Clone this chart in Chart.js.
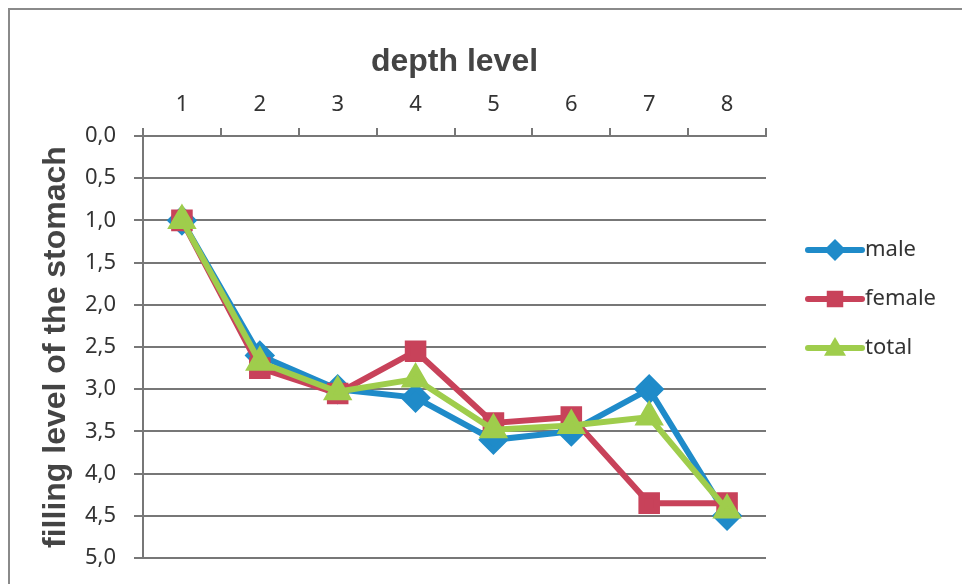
<!DOCTYPE html>
<html>
<head>
<meta charset="utf-8">
<script src="https://cdn.jsdelivr.net/npm/chart.js@4"></script>
<style>
  html, body { margin: 0; padding: 0; background: #fff; }
  #wrap { width: 962px; height: 584px; position: relative; }
</style>
</head>
<body>
<div id="wrap"><canvas id="stomachChart" width="962" height="584"></canvas></div>
<script>
const depthLevels = ["1", "2", "3", "4", "5", "6", "7", "8"];
const maleValues = [1.0, 2.6, 3.0, 3.1, 3.6, 3.5, 3.0, 4.5];
const femaleValues = [1.0, 2.75, 3.05, 2.55, 3.4, 3.33, 4.35, 4.35];
const totalValues = [1.0, 2.68, 3.03, 2.88, 3.48, 3.43, 3.33, 4.43];
const seriesNames = ["male", "female", "total"];

const tickFont = { family: "'Noto Sans', sans-serif", size: 22 };
const titleFont = { family: "'Liberation Sans', Arial, sans-serif", size: 32, weight: "bold" };

// outer frame like the pasted image border
const framePlugin = {
  id: "frame",
  beforeDraw(chart) {
    const c = chart.ctx;
    c.save();
    c.fillStyle = "#fff";
    c.fillRect(0, 0, chart.width, chart.height);
    c.strokeStyle = "#8a8a8a";
    c.lineWidth = 2;
    c.beginPath();
    c.moveTo(9, chart.height);
    c.lineTo(9, 9);
    c.lineTo(chart.width, 9);
    c.stroke();
    c.restore();
  },
};

// legend with line + marker, to the right of the plot
const sideLegend = {
  id: "sideLegend",
  afterDraw(chart) {
    const c = chart.ctx;
    const area = chart.chartArea;
    const x0 = area.right + 42;
    let y = area.top + 114;
    chart.data.datasets.forEach((ds) => {
      c.save();
      c.strokeStyle = ds.borderColor;
      c.lineWidth = 6;
      c.lineCap = "round";
      c.beginPath();
      c.moveTo(x0, y);
      c.lineTo(x0 + 54, y);
      c.stroke();
      c.fillStyle = ds.pointBackgroundColor;
      const r = ds.pointRadius;
      const cx = x0 + 27;
      c.beginPath();
      if (ds.pointStyle === "rectRot") {
        c.moveTo(cx, y - r);
        c.lineTo(cx + r, y);
        c.lineTo(cx, y + r);
        c.lineTo(cx - r, y);
      } else if (ds.pointStyle === "rect") {
        c.rect(cx - r * 0.75, y - r * 0.75, r * 1.5, r * 1.5);
      } else {
        c.moveTo(cx, y - r);
        c.lineTo(cx + r, y + r * 0.7);
        c.lineTo(cx - r, y + r * 0.7);
      }
      c.closePath();
      c.fill();
      c.fillStyle = "#333";
      c.font = "22px 'Noto Sans', sans-serif";
      c.textBaseline = "middle";
      c.fillText(ds.label, x0 + 57, y);
      c.restore();
      y += 49;
    });
  },
};

const makeSet = (label, data, color, style, radius, order) => ({
  label: label,
  data: data,
  order: order,
  borderColor: color,
  backgroundColor: color,
  pointBackgroundColor: color,
  pointBorderColor: color,
  pointStyle: style,
  pointRadius: radius,
  borderWidth: 6,
  tension: 0,
});

new Chart(document.getElementById("stomachChart"), {
  type: "line",
  data: {
    labels: depthLevels,
    datasets: [
      makeSet(seriesNames[0], maleValues, "#1f8bc9", "rectRot", 11, 3),
      makeSet(seriesNames[1], femaleValues, "#c8425a", "rect", 11, 2),
      makeSet(seriesNames[2], totalValues, "#9fcd4c", "triangle", 11, 1),
    ],
  },
  options: {
    responsive: false,
    animation: false,
    layout: { padding: { left: 37, top: 43, right: 196, bottom: 26 } },
    plugins: { legend: { display: false }, tooltip: { enabled: false } },
    scales: {
      x: {
        position: "top",
        offset: true,
        grid: { display: true, drawOnChartArea: false, offset: true, tickLength: 8, color: "#777", lineWidth: 2 },
        border: { display: true, color: "#777", width: 2 },
        ticks: { color: "#333", font: tickFont, padding: 10 },
        title: { display: true, text: "depth level", color: "#444", font: titleFont, padding: 0 },
        afterFit(scale) { scale.height = 93; },
      },
      y: {
        reverse: true,
        min: 0,
        max: 5,
        ticks: {
          stepSize: 0.5,
          color: "#333",
          font: tickFont,
          padding: 18,
          callback: (v) => v.toFixed(1).replace(".", ","),
        },
        grid: { color: "#777", lineWidth: 2, tickLength: 9 },
        border: { display: true, color: "#777", width: 2 },
        title: { display: true, text: "filling level of the stomach", color: "#444", font: titleFont, padding: 0 },
        afterFit(scale) {
          scale.width = 106;
          scale.paddingTop = 0;
          scale.paddingBottom = 0;
        },
      },
    },
  },
  plugins: [framePlugin, sideLegend],
});
</script>
</body>
</html>
